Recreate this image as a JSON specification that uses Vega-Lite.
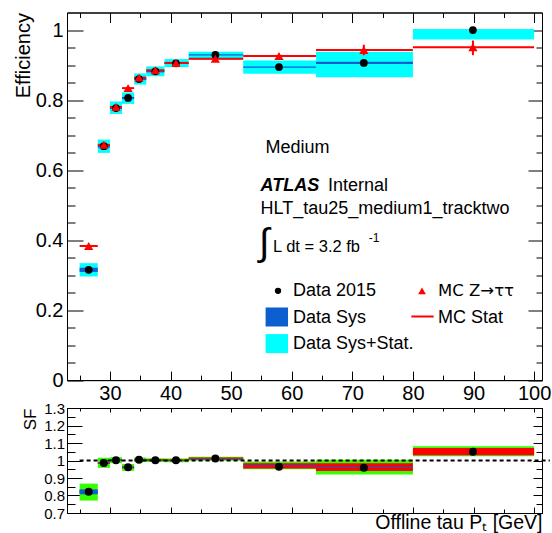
{
  "$schema": "https://vega.github.io/schema/vega-lite/v6.json",
  "padding": {"left": 12, "top": 11.5, "right": 5, "bottom": 2},
  "spacing": 27.5,
  "bounds": "flush",
  "datasets": {
    "main": [
      {"lo": 25, "hi": 28, "pt": 26.5, "eff": 0.315, "effLo": 0.296, "effHi": 0.334, "sysLo": 0.309, "sysHi": 0.321, "mc": 0.383, "mcLo": 0.379, "mcHi": 0.387},
      {"lo": 28, "hi": 30, "pt": 29.0, "eff": 0.668, "effLo": 0.649, "effHi": 0.687, "sysLo": 0.664, "sysHi": 0.672, "mc": 0.672, "mcLo": 0.668, "mcHi": 0.676},
      {"lo": 30, "hi": 32, "pt": 31.0, "eff": 0.777, "effLo": 0.760, "effHi": 0.796, "sysLo": 0.774, "sysHi": 0.780, "mc": 0.780, "mcLo": 0.776, "mcHi": 0.784},
      {"lo": 32, "hi": 34, "pt": 33.0, "eff": 0.806, "effLo": 0.789, "effHi": 0.822, "sysLo": 0.803, "sysHi": 0.809, "mc": 0.834, "mcLo": 0.830, "mcHi": 0.838},
      {"lo": 34, "hi": 36, "pt": 34.8, "eff": 0.860, "effLo": 0.844, "effHi": 0.876, "sysLo": 0.857, "sysHi": 0.863, "mc": 0.864, "mcLo": 0.861, "mcHi": 0.867},
      {"lo": 36, "hi": 39, "pt": 37.5, "eff": 0.882, "effLo": 0.868, "effHi": 0.896, "sysLo": 0.879, "sysHi": 0.885, "mc": 0.885, "mcLo": 0.882, "mcHi": 0.888},
      {"lo": 39, "hi": 43, "pt": 40.9, "eff": 0.905, "effLo": 0.894, "effHi": 0.917, "sysLo": 0.903, "sysHi": 0.907, "mc": 0.906, "mcLo": 0.903, "mcHi": 0.909},
      {"lo": 43, "hi": 52, "pt": 47.4, "eff": 0.929, "effLo": 0.915, "effHi": 0.938, "sysLo": 0.927, "sysHi": 0.931, "mc": 0.918, "mcLo": 0.915, "mcHi": 0.921},
      {"lo": 52, "hi": 64, "pt": 57.9, "eff": 0.894, "effLo": 0.875, "effHi": 0.913, "sysLo": 0.892, "sysHi": 0.896, "mc": 0.926, "mcLo": 0.920, "mcHi": 0.932},
      {"lo": 64, "hi": 80, "pt": 71.9, "eff": 0.906, "effLo": 0.865, "effHi": 0.938, "sysLo": 0.903, "sysHi": 0.909, "mc": 0.943, "mcLo": 0.928, "mcHi": 0.958},
      {"lo": 80, "hi": 100, "pt": 89.9, "eff": 1.000, "effLo": 0.973, "effHi": 1.003, "sysLo": null, "sysHi": null, "mc": 0.951, "mcLo": 0.928, "mcHi": 0.970}
    ],
    "sf": [
      {"lo": 25, "hi": 28, "pt": 26.5, "sf": 0.821, "totLo": 0.771, "totHi": 0.868, "mcLo": 0.812, "mcHi": 0.830, "sysLo": 0.807, "sysHi": 0.835},
      {"lo": 28, "hi": 30, "pt": 29.0, "sf": 0.986, "totLo": 0.958, "totHi": 1.016, "mcLo": 0.980, "mcHi": 0.992, "sysLo": 0.983, "sysHi": 0.989},
      {"lo": 30, "hi": 32, "pt": 31.0, "sf": 1.002, "totLo": 0.985, "totHi": 1.019, "mcLo": 0.997, "mcHi": 1.007, "sysLo": 0.999, "sysHi": 1.005},
      {"lo": 32, "hi": 34, "pt": 33.0, "sf": 0.961, "totLo": 0.941, "totHi": 0.980, "mcLo": 0.955, "mcHi": 0.967, "sysLo": 0.958, "sysHi": 0.964},
      {"lo": 34, "hi": 36, "pt": 34.8, "sf": 1.004, "totLo": 0.991, "totHi": 1.017, "mcLo": 0.999, "mcHi": 1.009, "sysLo": 1.001, "sysHi": 1.007},
      {"lo": 36, "hi": 39, "pt": 37.5, "sf": 1.002, "totLo": 0.991, "totHi": 1.013, "mcLo": 0.997, "mcHi": 1.007, "sysLo": 1.000, "sysHi": 1.004},
      {"lo": 39, "hi": 43, "pt": 40.9, "sf": 1.001, "totLo": 0.990, "totHi": 1.012, "mcLo": 0.996, "mcHi": 1.006, "sysLo": 0.999, "sysHi": 1.003},
      {"lo": 43, "hi": 52, "pt": 47.4, "sf": 1.011, "totLo": 0.999, "totHi": 1.022, "mcLo": 1.005, "mcHi": 1.017, "sysLo": 1.009, "sysHi": 1.013},
      {"lo": 52, "hi": 64, "pt": 57.9, "sf": 0.965, "totLo": 0.950, "totHi": 0.994, "mcLo": 0.955, "mcHi": 0.985, "sysLo": 0.967, "sysHi": 0.973},
      {"lo": 64, "hi": 80, "pt": 71.9, "sf": 0.959, "totLo": 0.920, "totHi": 1.005, "mcLo": 0.940, "mcHi": 0.985, "sysLo": 0.958, "sysHi": 0.964},
      {"lo": 80, "hi": 100, "pt": 89.9, "sf": 1.050, "totLo": 1.025, "totHi": 1.081, "mcLo": 1.030, "mcHi": 1.072, "sysLo": null, "sysHi": null}
    ],
    "one": [{}]
  },
  "vconcat": [
    {
      "width": 475,
      "height": 367.6,
      "resolve": {"axis": {"x": "independent", "y": "independent"}},
      "layer": [
        {
          "data": {"name": "main"},
          "mark": {"type": "rect", "fill": "#00ffff"},
          "encoding": {
            "x": {"field": "lo", "type": "quantitative", "scale": {"domain": [22.92, 101.3], "nice": false, "zero": false},
              "axis": {"orient": "bottom", "values": [25,30,35,40,45,50,55,60,65,70,75,80,85,90,95,100],
                "tickSize": {"condition": {"test": "datum.value % 10 === 0", "value": -9}, "value": -5},
                "labelExpr": "datum.value % 10 === 0 ? datum.label : ''",
                "labelFontSize": 20, "labelPadding": 12, "labelFlush": false, "labelOverlap": false, "title": null}},
            "x2": {"field": "hi"},
            "y": {"field": "effLo", "type": "quantitative", "scale": {"domain": [0, 1.05], "nice": false, "zero": false},
              "axis": {"orient": "left", "values": [0,0.05,0.1,0.15,0.2,0.25,0.3,0.35,0.4,0.45,0.5,0.55,0.6,0.65,0.7,0.75,0.8,0.85,0.9,0.95,1],
                "tickSize": {"condition": {"test": "abs(datum.value*5 - round(datum.value*5)) < 1e-6", "value": -16}, "value": -8},
                "labelExpr": "abs(datum.value*5 - round(datum.value*5)) < 1e-6 ? format(datum.value, '~g') : ''",
                "labelFontSize": 20, "labelPadding": 20, "labelFlush": false, "labelOverlap": false,
                "title": "Efficiency", "titleAnchor": "end", "titleFontSize": 20, "titlePadding": 2}},
            "y2": {"field": "effHi"}
          }
        },
        {
          "data": {"name": "main"},
          "mark": {"type": "rect", "fill": "#0b5fcf"},
          "encoding": {
            "x": {"field": "lo", "type": "quantitative",
              "axis": {"orient": "top", "values": [25,30,35,40,45,50,55,60,65,70,75,80,85,90,95,100],
                "tickSize": {"condition": {"test": "datum.value % 10 === 0", "value": -10}, "value": -5},
                "labels": false, "title": null}},
            "x2": {"field": "hi"},
            "y": {"field": "sysLo", "type": "quantitative",
              "axis": {"orient": "right", "values": [0,0.05,0.1,0.15,0.2,0.25,0.3,0.35,0.4,0.45,0.5,0.55,0.6,0.65,0.7,0.75,0.8,0.85,0.9,0.95,1],
                "tickSize": {"condition": {"test": "abs(datum.value*5 - round(datum.value*5)) < 1e-6", "value": -14}, "value": -6},
                "labels": false, "title": null}},
            "y2": {"field": "sysHi"}
          }
        },
        {
          "data": {"name": "main"},
          "mark": {"type": "rule", "color": "#ff0000", "strokeWidth": 2},
          "encoding": {
            "x": {"field": "lo", "type": "quantitative", "axis": null},
            "x2": {"field": "hi"},
            "y": {"field": "mc", "type": "quantitative", "axis": null}
          }
        },
        {
          "data": {"name": "main"},
          "mark": {"type": "rule", "color": "#ff0000", "strokeWidth": 2},
          "encoding": {
            "x": {"field": "pt", "type": "quantitative", "axis": null},
            "y": {"field": "mcLo", "type": "quantitative", "axis": null},
            "y2": {"field": "mcHi"}
          }
        },
        {
          "data": {"name": "main"},
          "mark": {"type": "point", "shape": "circle", "filled": true, "color": "#000000", "size": 60, "opacity": 1},
          "encoding": {
            "x": {"field": "pt", "type": "quantitative", "axis": null},
            "y": {"field": "eff", "type": "quantitative", "axis": null}
          }
        },
        {
          "data": {"name": "main"},
          "mark": {"type": "point", "shape": "triangle-up", "filled": true, "color": "#ff0000", "size": 85, "opacity": 1},
          "encoding": {
            "x": {"field": "pt", "type": "quantitative", "axis": null},
            "y": {"field": "mc", "type": "quantitative", "axis": null}
          }
        },
        {
          "data": {"name": "one"},
          "mark": {"type": "text", "text": "Medium", "fontSize": 18, "align": "left", "baseline": "alphabetic", "color": "#000"},
          "encoding": {"x": {"datum": 55.69, "type": "quantitative", "axis": null}, "y": {"datum": 0.6474, "type": "quantitative", "axis": null}}
        },
        {
          "data": {"name": "one"},
          "mark": {"type": "text", "text": "ATLAS", "fontSize": 18, "fontStyle": "italic", "fontWeight": "bold", "align": "left", "baseline": "alphabetic", "color": "#000"},
          "encoding": {"x": {"datum": 54.87, "type": "quantitative", "axis": null}, "y": {"datum": 0.5389, "type": "quantitative", "axis": null}}
        },
        {
          "data": {"name": "one"},
          "mark": {"type": "text", "text": "Internal", "fontSize": 18, "align": "left", "baseline": "alphabetic", "color": "#000"},
          "encoding": {"x": {"datum": 65.99, "type": "quantitative", "axis": null}, "y": {"datum": 0.5389, "type": "quantitative", "axis": null}}
        },
        {
          "data": {"name": "one"},
          "mark": {"type": "text", "text": "HLT_tau25_medium1_tracktwo", "fontSize": 18, "align": "left", "baseline": "alphabetic", "color": "#000"},
          "encoding": {"x": {"datum": 54.87, "type": "quantitative", "axis": null}, "y": {"datum": 0.4743, "type": "quantitative", "axis": null}}
        },
        {
          "data": {"name": "one"},
          "mark": {"type": "text", "text": "∫", "fontSize": 38, "align": "left", "baseline": "middle", "color": "#000"},
          "encoding": {"x": {"datum": 54.6, "type": "quantitative", "axis": null}, "y": {"datum": 0.389, "type": "quantitative", "axis": null}}
        },
        {
          "data": {"name": "one"},
          "mark": {"type": "text", "text": "L dt = 3.2 fb", "fontSize": 16.5, "align": "left", "baseline": "alphabetic", "color": "#000"},
          "encoding": {"x": {"datum": 56.91, "type": "quantitative", "axis": null}, "y": {"datum": 0.3646, "type": "quantitative", "axis": null}}
        },
        {
          "data": {"name": "one"},
          "mark": {"type": "text", "text": "-1", "fontSize": 12, "align": "left", "baseline": "alphabetic", "color": "#000"},
          "encoding": {"x": {"datum": 72.7, "type": "quantitative", "axis": null}, "y": {"datum": 0.3931, "type": "quantitative", "axis": null}}
        },
        {
          "data": {"name": "one"},
          "mark": {"type": "point", "shape": "circle", "filled": true, "color": "#000000", "size": 40, "opacity": 1},
          "encoding": {"x": {"datum": 57.74, "type": "quantitative", "axis": null}, "y": {"datum": 0.2551, "type": "quantitative", "axis": null}}
        },
        {
          "data": {"name": "one"},
          "mark": {"type": "point", "shape": "triangle-up", "filled": true, "color": "#ff0000", "size": 60, "opacity": 1},
          "encoding": {"x": {"datum": 81.5, "type": "quantitative", "axis": null}, "y": {"datum": 0.2551, "type": "quantitative", "axis": null}}
        },
        {
          "data": {"name": "one"},
          "mark": {"type": "rect", "fill": "#0b5fcf"},
          "encoding": {"x": {"datum": 55.69, "type": "quantitative", "axis": null}, "x2": {"datum": 59.39}, "y": {"datum": 0.2074, "type": "quantitative", "axis": null}, "y2": {"datum": 0.1531}}
        },
        {
          "data": {"name": "one"},
          "mark": {"type": "rect", "fill": "#00ffff"},
          "encoding": {"x": {"datum": 55.69, "type": "quantitative", "axis": null}, "x2": {"datum": 59.39}, "y": {"datum": 0.1314, "type": "quantitative", "axis": null}, "y2": {"datum": 0.0771}}
        },
        {
          "data": {"name": "one"},
          "mark": {"type": "rule", "color": "#ff0000", "strokeWidth": 2},
          "encoding": {"x": {"datum": 79.74, "type": "quantitative", "axis": null}, "x2": {"datum": 83.42}, "y": {"datum": 0.1817, "type": "quantitative", "axis": null}}
        },
        {
          "data": {"name": "one"},
          "mark": {"type": "text", "text": "Data 2015", "fontSize": 18, "align": "left", "baseline": "alphabetic", "color": "#000"},
          "encoding": {"x": {"datum": 60.21, "type": "quantitative", "axis": null}, "y": {"datum": 0.2389, "type": "quantitative", "axis": null}}
        },
        {
          "data": {"name": "one"},
          "mark": {"type": "text", "text": "MC Z→ττ", "font": "DejaVu Sans", "fontSize": 16.5, "align": "left", "baseline": "alphabetic", "color": "#000"},
          "encoding": {"x": {"datum": 84.14, "type": "quantitative", "axis": null}, "y": {"datum": 0.2389, "type": "quantitative", "axis": null}}
        },
        {
          "data": {"name": "one"},
          "mark": {"type": "text", "text": "Data Sys", "fontSize": 18, "align": "left", "baseline": "alphabetic", "color": "#000"},
          "encoding": {"x": {"datum": 60.21, "type": "quantitative", "axis": null}, "y": {"datum": 0.1629, "type": "quantitative", "axis": null}}
        },
        {
          "data": {"name": "one"},
          "mark": {"type": "text", "text": "MC Stat", "fontSize": 18, "align": "left", "baseline": "alphabetic", "color": "#000"},
          "encoding": {"x": {"datum": 84.14, "type": "quantitative", "axis": null}, "y": {"datum": 0.1629, "type": "quantitative", "axis": null}}
        },
        {
          "data": {"name": "one"},
          "mark": {"type": "text", "text": "Data Sys+Stat.", "fontSize": 18, "align": "left", "baseline": "alphabetic", "color": "#000"},
          "encoding": {"x": {"datum": 60.21, "type": "quantitative", "axis": null}, "y": {"datum": 0.0886, "type": "quantitative", "axis": null}}
        }
      ]
    },
    {
      "width": 475,
      "height": 105,
      "resolve": {"axis": {"x": "independent", "y": "independent"}},
      "layer": [
        {
          "data": {"name": "sf"},
          "mark": {"type": "rect", "fill": "#33ff00"},
          "encoding": {
            "x": {"field": "lo", "type": "quantitative", "scale": {"domain": [22.92, 101.3], "nice": false, "zero": false},
              "axis": {"orient": "bottom", "values": [25,30,35,40,45,50,55,60,65,70,75,80,85,90,95,100],
                "tickSize": {"condition": {"test": "datum.value % 10 === 0", "value": -6}, "value": -4},
                "labels": false, "title": "Offline tau Pₜ [GeV]", "titleAnchor": "end", "titleFontSize": 19.5, "titleFontWeight": "normal", "titlePadding": 0}},
            "x2": {"field": "hi"},
            "y": {"field": "totLo", "type": "quantitative", "scale": {"domain": [0.7, 1.3], "nice": false, "zero": false},
              "axis": {"orient": "left", "values": [0.7,0.75,0.8,0.85,0.9,0.95,1,1.05,1.1,1.15,1.2,1.25,1.3],
                "tickSize": {"condition": {"test": "abs(datum.value*10 - round(datum.value*10)) < 1e-6", "value": -15}, "value": -8},
                "labelExpr": "abs(datum.value*10 - round(datum.value*10)) < 1e-6 ? format(datum.value, '~g') : ''",
                "labelFontSize": 15, "labelPadding": 17.5, "labelFlush": false, "labelOverlap": false,
                "title": "SF", "titleAnchor": "end", "titleFontSize": 17, "titlePadding": 4}},
            "y2": {"field": "totHi"}
          }
        },
        {
          "data": {"name": "sf"},
          "mark": {"type": "rect", "fill": "#ff0000"},
          "encoding": {
            "x": {"field": "lo", "type": "quantitative",
              "axis": {"orient": "top", "values": [25,30,35,40,45,50,55,60,65,70,75,80,85,90,95,100],
                "tickSize": {"condition": {"test": "datum.value % 10 === 0", "value": -4}, "value": -3},
                "labels": false, "title": null}},
            "x2": {"field": "hi"},
            "y": {"field": "mcLo", "type": "quantitative",
              "axis": {"orient": "right", "values": [0.7,0.75,0.8,0.85,0.9,0.95,1,1.05,1.1,1.15,1.2,1.25,1.3],
                "tickSize": {"condition": {"test": "abs(datum.value*10 - round(datum.value*10)) < 1e-6", "value": -9}, "value": -6},
                "labels": false, "title": null}},
            "y2": {"field": "mcHi"}
          }
        },
        {
          "data": {"name": "sf"},
          "mark": {"type": "rect", "fill": "#0b5fcf"},
          "encoding": {
            "x": {"field": "lo", "type": "quantitative", "axis": null},
            "x2": {"field": "hi"},
            "y": {"field": "sysLo", "type": "quantitative", "axis": null},
            "y2": {"field": "sysHi"}
          }
        },
        {
          "data": {"name": "one"},
          "mark": {"type": "rule", "color": "#000000", "strokeWidth": 2, "strokeDash": [4, 3], "clip": false},
          "encoding": {"x": {"datum": 25, "type": "quantitative", "axis": null}, "x2": {"datum": 102.6}, "y": {"datum": 1, "type": "quantitative", "axis": null}}
        },
        {
          "data": {"name": "sf"},
          "mark": {"type": "point", "shape": "circle", "filled": true, "color": "#000000", "size": 64, "opacity": 1},
          "encoding": {
            "x": {"field": "pt", "type": "quantitative", "axis": null},
            "y": {"field": "sf", "type": "quantitative", "axis": null}
          }
        }
      ]
    }
  ],
  "config": {
    "font": "Liberation Sans",
    "view": {"stroke": "#000000", "strokeWidth": 1},
    "axis": {"domainColor": "#000000", "tickColor": "#000000", "labelColor": "#000000", "titleColor": "#000000", "grid": false, "labelFont": "Liberation Sans", "titleFont": "Liberation Sans", "titleFontWeight": "normal"},
    "text": {"font": "Liberation Sans"}
  }
}
